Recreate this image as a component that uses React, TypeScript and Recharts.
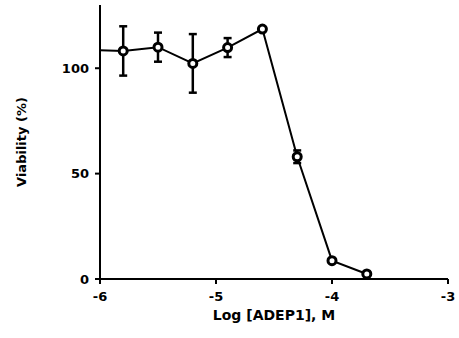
import React from "react";
import { LineChart, Line, XAxis, YAxis, ErrorBar } from "recharts";

// Log concentration of ADEP1 (M); the first dose lies left of the plotted range
const logDose = [-6.1, -5.8, -5.5, -5.2, -4.9, -4.6, -4.3, -4.0, -3.7];
// Mean viability (%) at each dose
const viability = [108.7, 108.2, 110.0, 102.3, 109.8, 118.6, 58.0, 8.7, 2.4];
// Standard deviation of viability (%)
const viabilitySd = [0, 11.7, 6.9, 13.9, 4.5, 0, 3.0, 1.0, 0.6];

const xTicks = [-6, -5, -4, -3];
const yTicks = [0, 50, 100];

const data = logDose.map((x, i) => ({ x, y: viability[i], sd: viabilitySd[i] }));

const FONT = "'DejaVu Sans', sans-serif";
const tickStyle = { fontFamily: FONT, fontWeight: 700, fontSize: 13, fill: "#000" };

const YLabel = (props: any) => {
  const { viewBox } = props;
  const cx = 21;
  const cy = viewBox.y + viewBox.height / 2;
  return (
    <text
      x={cx}
      y={cy}
      transform={`rotate(-90, ${cx}, ${cy})`}
      textAnchor="middle"
      dominantBaseline="central"
      style={{ fontFamily: FONT, fontWeight: 700, fontSize: 13, fill: "#000" }}
    >
      Viability (%)
    </text>
  );
};

const XLabel = (props: any) => {
  const { viewBox } = props;
  const cx = viewBox.x + viewBox.width / 2;
  return (
    <text
      x={cx}
      y={viewBox.y + 40.5}
      textAnchor="middle"
      style={{ fontFamily: FONT, fontWeight: 700, fontSize: 14, fill: "#000" }}
    >
      Log [ADEP1], M
    </text>
  );
};

export default function App() {
  return (
    <div style={{ position: "absolute", left: 0, top: 0, width: 459, height: 338, background: "#fff" }}>
      <LineChart width={459} height={338} data={data} margin={{ top: 5, right: 11, bottom: 0, left: 0 }}>
        <XAxis
          dataKey="x"
          type="number"
          domain={[-6, -3]}
          ticks={xTicks}
          allowDataOverflow
          height={59}
          tickSize={5}
          tickMargin={8}
          tick={tickStyle}
          axisLine={{ stroke: "#000", strokeWidth: 2 }}
          tickLine={{ stroke: "#000", strokeWidth: 2 }}
          label={<XLabel />}
        />
        <YAxis
          type="number"
          domain={[0, 130]}
          ticks={yTicks}
          allowDataOverflow
          width={100}
          tickSize={5}
          tickMargin={6}
          tick={tickStyle}
          axisLine={{ stroke: "#000", strokeWidth: 2 }}
          tickLine={{ stroke: "#000", strokeWidth: 2 }}
          label={<YLabel />}
        />
        <Line
          dataKey="y"
          type="linear"
          stroke="#000"
          strokeWidth={2}
          dot={{ r: 4, stroke: "#000", strokeWidth: 3, fill: "#fff" }}
          activeDot={false}
          isAnimationActive={false}
        >
          <ErrorBar dataKey="sd" direction="y" width={4} stroke="#000" strokeWidth={2.5} />
        </Line>
      </LineChart>
    </div>
  );
}
